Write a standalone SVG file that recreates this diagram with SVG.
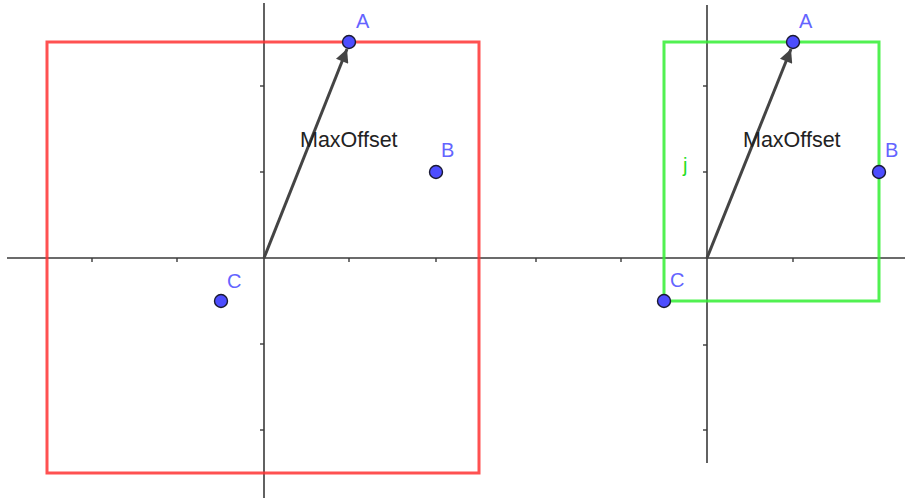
<svg xmlns="http://www.w3.org/2000/svg" width="905" height="501" viewBox="0 0 905 501">
<defs>
<style>
.axis{stroke:#3a3a3a;stroke-width:1.6;fill:none}
.tick{stroke:#3a3a3a;stroke-width:1.4}
.red{fill:none;stroke:#ff3333;stroke-opacity:0.85;stroke-width:3}
.green{fill:none;stroke:#33ee33;stroke-opacity:0.85;stroke-width:3}
.pt{fill:#4d4dff;stroke:#1a1a33;stroke-width:1.4}
.lbl{font-family:"Liberation Sans",Arial,sans-serif;font-size:20px;fill:#6464ff}
.vec{stroke:#444444;stroke-width:3;fill:none}
.vtxt{font-family:"Liberation Sans",Arial,sans-serif;font-size:21.5px;fill:#222222}
.jtxt{font-family:"Liberation Sans",Arial,sans-serif;font-size:20px;fill:#22dd22}
</style>
<marker id="arr" viewBox="0 0 10 10" refX="10" refY="5" markerWidth="5.5" markerHeight="4.4" orient="auto" markerUnits="strokeWidth">
<path d="M0,0 L10,5 L0,10 z" fill="#444444"/>
</marker>
</defs>
<rect width="905" height="501" fill="#ffffff"/>
<g id="axes">
<line class="axis" x1="7" y1="258" x2="905" y2="258"/>
<line class="axis" x1="264" y1="3" x2="264" y2="498"/>
<line class="axis" x1="707" y1="5" x2="707" y2="463"/>
<g class="tick">
<line x1="92" y1="258" x2="92" y2="262"/>
<line x1="177" y1="258" x2="177" y2="262"/>
<line x1="349" y1="258" x2="349" y2="262"/>
<line x1="436" y1="258" x2="436" y2="262"/>
<line x1="536" y1="258" x2="536" y2="262"/>
<line x1="621" y1="258" x2="621" y2="262"/>
<line x1="793" y1="258" x2="793" y2="262"/>
<line x1="260" y1="86" x2="264" y2="86"/>
<line x1="260" y1="172" x2="264" y2="172"/>
<line x1="260" y1="344" x2="264" y2="344"/>
<line x1="260" y1="430" x2="264" y2="430"/>
<line x1="703" y1="86" x2="707" y2="86"/>
<line x1="703" y1="172" x2="707" y2="172"/>
<line x1="703" y1="345" x2="707" y2="345"/>
<line x1="703" y1="430" x2="707" y2="430"/>
</g>
</g>
<g id="rect-red"><rect class="red" x="47" y="42" width="432" height="431"/></g>
<g id="rect-green"><rect class="green" x="664" y="42" width="215" height="259"/>
<text class="jtxt" x="683" y="172">j</text></g>
<g id="connectors">
<line class="vec" x1="264" y1="258" x2="347" y2="49" marker-end="url(#arr)"/>
<line class="vec" x1="707" y1="258" x2="791" y2="49" marker-end="url(#arr)"/>
<text class="vtxt" x="300" y="147">MaxOffset</text>
<text class="vtxt" x="743" y="147">MaxOffset</text>
</g>
<g id="A1"><circle class="pt" cx="349" cy="42" r="6.5"/><text class="lbl" x="356" y="28">A</text></g>
<g id="B1"><circle class="pt" cx="436" cy="172" r="6.5"/><text class="lbl" x="441" y="157">B</text></g>
<g id="C1"><circle class="pt" cx="221" cy="301" r="6.5"/><text class="lbl" x="227" y="288">C</text></g>
<g id="A2"><circle class="pt" cx="793" cy="42" r="6.5"/><text class="lbl" x="799" y="28">A</text></g>
<g id="B2"><circle class="pt" cx="879" cy="172" r="6.5"/><text class="lbl" x="885" y="157">B</text></g>
<g id="C2"><circle class="pt" cx="664" cy="301" r="6.5"/><text class="lbl" x="670" y="287">C</text></g>
</svg>
